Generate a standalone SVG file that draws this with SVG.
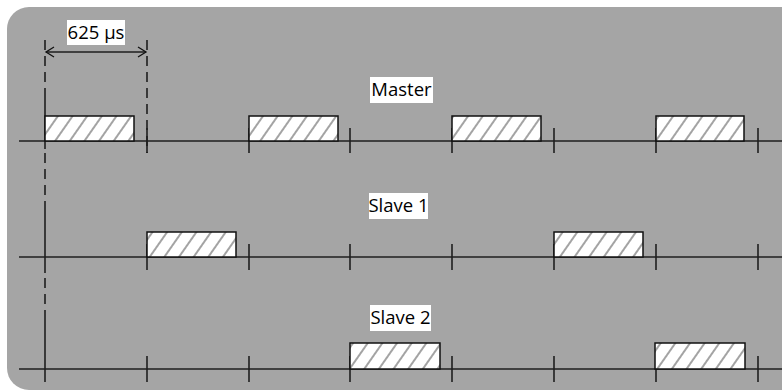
<svg xmlns="http://www.w3.org/2000/svg" width="782" height="390" viewBox="0 0 782 390">
  <defs>
    <pattern id="hatch" patternUnits="userSpaceOnUse" width="12" height="12" patternTransform="rotate(35)">
      <rect width="12" height="12" fill="#ffffff"/>
      <line x1="6" y1="0" x2="6" y2="12" stroke="#333" stroke-width="0.9"/>
    </pattern>
    <marker id="chev" markerWidth="12" markerHeight="12" refX="9" refY="6" orient="auto-start-reverse" markerUnits="userSpaceOnUse">
      <path d="M1,1 L9,6 L1,11" fill="none" stroke="#111" stroke-width="1.3"/>
    </marker>
  </defs>
  <style>
    .bg { fill: #a5a5a5; }
    .axis { stroke: #1f1f1f; stroke-width: 1.6; fill: none; }
    .tick { stroke: #1f1f1f; stroke-width: 1.6; }
    .slot { fill: url(#hatch); stroke: #111; stroke-width: 1.5; }
    .lblbg { fill: #ffffff; }
    .lbl { font-family: "Open Sans", "Noto Sans", sans-serif; font-size: 18.5px; fill: #000; }
    .dash { stroke: #1f1f1f; stroke-width: 1.6; stroke-dasharray: 10 6; fill: none; }
  </style>

  <rect class="bg" x="7" y="7" width="800" height="383" rx="22" ry="22"/>

  <g id="connectors">
    <line class="dash" x1="45" y1="40" x2="45" y2="88"/>
    <line class="dash" x1="147" y1="40" x2="147" y2="153"/>
    <line class="axis" x1="46" y1="52" x2="146" y2="52" marker-start="url(#chev)" marker-end="url(#chev)"/>
    <line class="axis" x1="45" y1="88" x2="45" y2="149"/>
    <line class="dash" x1="45" y1="153" x2="45" y2="201"/>
    <line class="axis" x1="45" y1="201" x2="45" y2="273"/>
    <line class="dash" x1="45" y1="278" x2="45" y2="313"/>
    <line class="axis" x1="45" y1="313" x2="45" y2="382"/>
  </g>

  <g id="label-625">
    <rect class="lblbg" x="67" y="20" width="58" height="25"/>
    <text class="lbl" x="96" y="39" text-anchor="middle">625 µs</text>
  </g>

  <g id="master">
    <line class="axis" x1="19" y1="141" x2="782" y2="141"/>
    <g class="tick">
      <line x1="147" y1="128" x2="147" y2="153"/>
      <line x1="249" y1="128" x2="249" y2="153"/>
      <line x1="350" y1="128" x2="350" y2="153"/>
      <line x1="452" y1="128" x2="452" y2="153"/>
      <line x1="554" y1="128" x2="554" y2="153"/>
      <line x1="656" y1="128" x2="656" y2="153"/>
      <line x1="758" y1="128" x2="758" y2="153"/>
    </g>
    <rect class="slot" x="45" y="116" width="89" height="25"/>
    <rect class="slot" x="249" y="116" width="89" height="25"/>
    <rect class="slot" x="452" y="116" width="89" height="25"/>
    <rect class="slot" x="656" y="116" width="88" height="25"/>
    <rect class="lblbg" x="370" y="77" width="63" height="26"/>
    <text class="lbl" x="401.5" y="96" text-anchor="middle">Master</text>
  </g>

  <g id="slave1">
    <line class="axis" x1="19" y1="257" x2="782" y2="257"/>
    <g class="tick">
      <line x1="147" y1="244" x2="147" y2="270"/>
      <line x1="249" y1="244" x2="249" y2="270"/>
      <line x1="350" y1="244" x2="350" y2="270"/>
      <line x1="452" y1="244" x2="452" y2="270"/>
      <line x1="554" y1="244" x2="554" y2="270"/>
      <line x1="656" y1="244" x2="656" y2="270"/>
      <line x1="758" y1="244" x2="758" y2="270"/>
    </g>
    <rect class="slot" x="147" y="232" width="89" height="25"/>
    <rect class="slot" x="554" y="232" width="89" height="25"/>
    <rect class="lblbg" x="369" y="193" width="59" height="26"/>
    <text class="lbl" x="398.5" y="212" text-anchor="middle">Slave 1</text>
  </g>

  <g id="slave2">
    <line class="axis" x1="19" y1="369" x2="782" y2="369"/>
    <g class="tick">
      <line x1="147" y1="356" x2="147" y2="382"/>
      <line x1="249" y1="356" x2="249" y2="382"/>
      <line x1="350" y1="356" x2="350" y2="382"/>
      <line x1="452" y1="356" x2="452" y2="382"/>
      <line x1="554" y1="356" x2="554" y2="382"/>
      <line x1="656" y1="356" x2="656" y2="382"/>
      <line x1="758" y1="356" x2="758" y2="382"/>
    </g>
    <rect class="slot" x="350" y="343" width="90" height="26"/>
    <rect class="slot" x="655" y="343" width="90" height="26"/>
    <rect class="lblbg" x="370" y="305" width="61" height="26"/>
    <text class="lbl" x="400.5" y="324" text-anchor="middle">Slave 2</text>
  </g>
</svg>
